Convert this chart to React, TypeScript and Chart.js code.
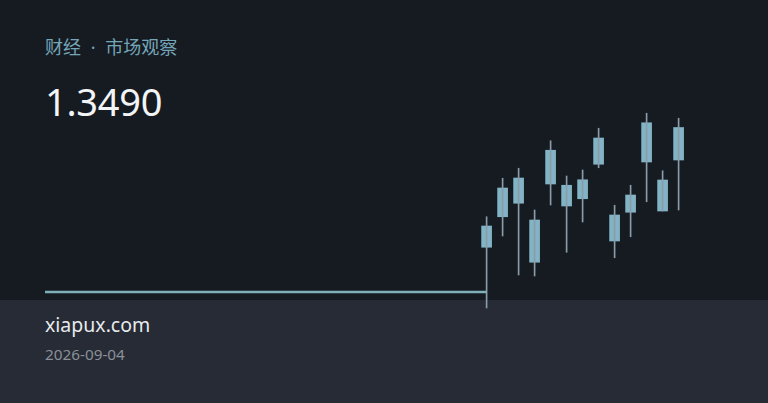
import React, { useEffect, useRef } from "react";
import { Chart, registerables } from "chart.js";

Chart.register(...registerables);

const title = "财经 · 市场观察";
const lastValue = "1.3490";
const site = "xiapux.com";
const dateLabel = "2026-09-04";

// candle index positions
const candleX = [0, 1, 2, 3, 4, 5, 6, 7, 8, 9, 10, 11, 12];
const opens = [1.3011, 1.3133, 1.3187, 1.3120, 1.3264, 1.3259, 1.3205, 1.3343, 1.3140, 1.3151, 1.3352, 1.3280, 1.3360];
const closes = [1.3096, 1.3248, 1.3288, 1.2951, 1.3399, 1.3176, 1.3281, 1.3448, 1.3036, 1.3220, 1.3509, 1.3156, 1.3490];
const highs = [1.3133, 1.3287, 1.3327, 1.3160, 1.3437, 1.3296, 1.3320, 1.3487, 1.3179, 1.3259, 1.3547, 1.3317, 1.3527];
const lows = [1.2768, 1.3056, 1.2900, 1.2896, 1.3180, 1.2991, 1.3112, 1.3329, 1.2969, 1.3053, 1.3193, 1.3156, 1.3160];

// flat baseline series leading into the candles
const baseX = [-27.6, 0];
const baseY = [1.2832, 1.2832];

export default function App() {
  const ref = useRef<HTMLCanvasElement | null>(null);

  useEffect(() => {
    document.body.style.margin = "0";
    if (!ref.current) return;
    const chart = new Chart(ref.current, {
      type: "bar",
      data: {
        datasets: [
          {
            type: "line",
            data: baseX.map((x, i) => ({ x, y: baseY[i] })),
            borderColor: "#7fb0ba",
            borderWidth: 2.5,
            pointRadius: 0,
            clip: false,
          } as any,
          {
            type: "bar",
            data: candleX.map((x, i) => ({ x, y: [lows[i], highs[i]] })),
            backgroundColor: "#8a9ca8",
            barThickness: 1,
            grouped: false,
            clip: false,
          } as any,
          {
            type: "bar",
            data: candleX.map((x, i) => ({ x, y: [opens[i], closes[i]] })),
            backgroundColor: "#82b4c6",
            borderWidth: 0,
            barThickness: 10,
            grouped: false,
            clip: false,
          } as any,
        ],
      },
      options: {
        animation: false,
        responsive: false,
        maintainAspectRatio: false,
        layout: { padding: { left: 45, right: 45, top: 100, bottom: 103 } },
        plugins: { legend: { display: false }, tooltip: { enabled: false } },
        scales: {
          x: { type: "linear", min: -27.6, max: 14.775, offset: false, display: false },
          y: { type: "linear", min: 1.28, max: 1.36, display: false },
        },
      } as any,
    });
    return () => chart.destroy();
  }, []);

  return (
    <div
      style={{
        position: "fixed",
        left: 0,
        top: 0,
        width: 768,
        height: 403,
        background: "#161b22",
        overflow: "hidden",
        fontFamily: "'Noto Sans', 'Noto Sans CJK SC', sans-serif",
      }}
    >
      <div style={{ position: "absolute", left: 0, top: 300, width: 768, height: 103, background: "#262b35" }} />
      <div
        style={{
          position: "absolute",
          left: 45,
          top: 34,
          fontSize: 18,
          lineHeight: "26px",
          color: "#74a6b8",
          wordSpacing: 5,
          fontFamily: "'Noto Sans', 'Noto Sans CJK SC', sans-serif",
          whiteSpace: "nowrap",
        }}
      >
        {title}
      </div>
      <div
        style={{
          position: "absolute",
          left: 45,
          top: 77,
          fontSize: 38,
          lineHeight: "48px",
          color: "#f2f4f6",
          letterSpacing: -0.3,
          whiteSpace: "nowrap",
        }}
      >
        {lastValue}
      </div>
      <div
        style={{
          position: "absolute",
          left: 45,
          top: 312,
          fontSize: 19.5,
          lineHeight: "26px",
          color: "#e8eaed",
          whiteSpace: "nowrap",
        }}
      >
        {site}
      </div>
      <div
        style={{
          position: "absolute",
          left: 45,
          top: 344,
          fontSize: 15.3,
          lineHeight: "20px",
          color: "#8b9099",
          whiteSpace: "nowrap",
        }}
      >
        {dateLabel}
      </div>
      <canvas
        ref={ref}
        width={768}
        height={403}
        style={{ position: "absolute", left: 0, top: 0, width: 768, height: 403 }}
      />
    </div>
  );
}
